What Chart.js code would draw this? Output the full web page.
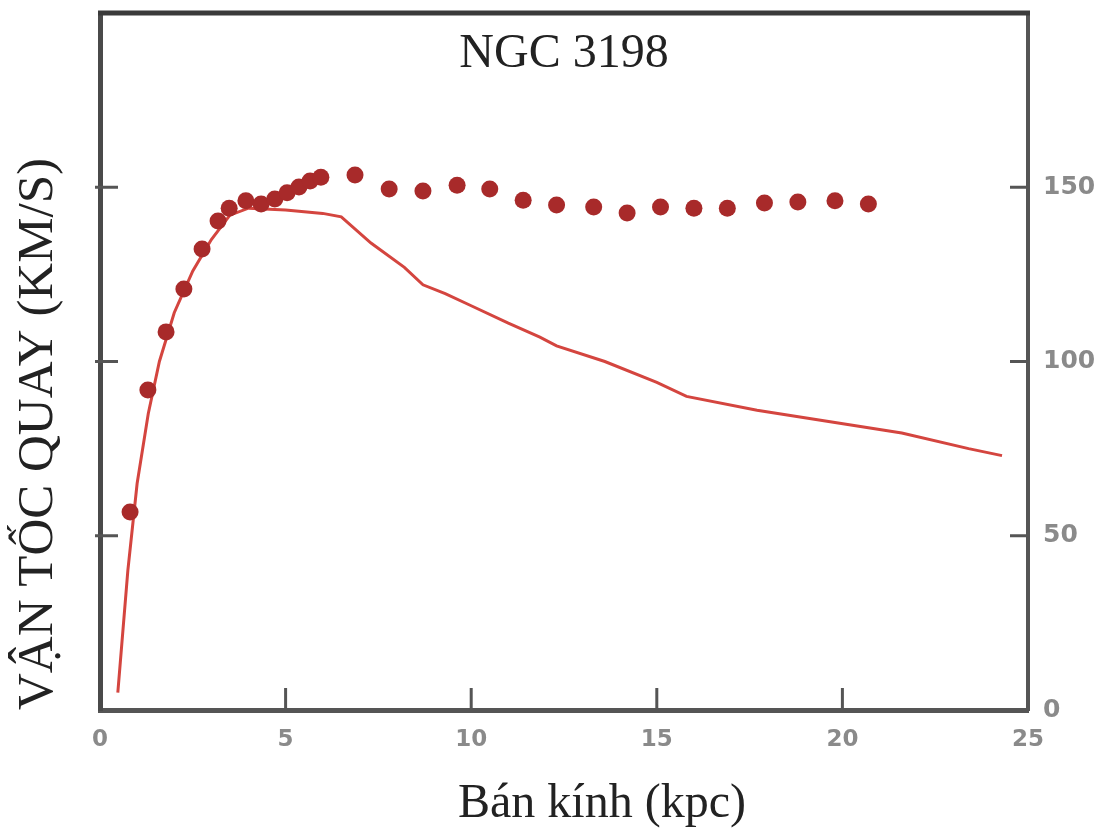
<!DOCTYPE html>
<html lang="vi">
<head>
<meta charset="UTF-8">
<title>NGC 3198</title>
<style>
  html, body { margin: 0; padding: 0; background: #fff; }
  #wrap { width: 1107px; height: 831px; }
</style>
</head>
<body>
<div id="wrap"><canvas id="chart"></canvas></div>
<script src="https://cdn.jsdelivr.net/npm/chart.js"></script>
<script>
// observed rotation speeds (dots)
const obsRadius = [0.81, 1.29, 1.78, 2.26, 2.75, 3.18, 3.48, 3.93, 4.34, 4.71, 5.04, 5.36, 5.66, 5.95,
  6.87, 7.79, 8.70, 9.62, 10.5, 11.4, 12.3, 13.3, 14.2, 15.1, 16.0, 16.9, 17.9, 18.8, 19.8, 20.7];
const obsSpeed = [56.8, 91.8, 108.5, 120.8, 132.3, 140.3, 144.0, 146.1, 145.2, 146.6, 148.4, 150.1, 151.8, 152.9,
  153.5, 149.5, 148.9, 150.6, 149.5, 146.3, 144.9, 144.3, 142.6, 144.3, 144.0, 144.0, 145.5, 145.8, 146.1, 145.2];

// expected curve (visible matter only)
const modelRadius = [0.48, 0.75, 1.0, 1.3, 1.6, 2.0, 2.5, 3.0, 3.5, 4.0, 5.0, 6.0, 6.5, 7.3, 8.2, 8.7, 9.3,
  10.0, 11.0, 11.85, 12.3, 13.6, 15.0, 15.8, 17.7, 20.1, 21.6, 23.4, 24.3];
const modelSpeed = [5, 40, 65, 85, 100, 114, 126, 135, 142, 144, 143.5, 142.5, 141.5, 134, 127, 122, 119.5,
  116, 111, 107, 104.5, 100, 94, 90, 86, 82, 79.5, 75, 73];

const plotTitle = 'NGC 3198';
const xTitle = 'Bán kính (kpc)';
const yTitle = 'VẬN TỐC QUAY (KM/S)';

const obsPoints = obsRadius.map((r, i) => ({x: r, y: obsSpeed[i]}));
const modelPoints = modelRadius.map((r, i) => ({x: r, y: modelSpeed[i]}));

// top frame line, inward tick marks, title inside the plot and x title
const frame = {
  id: 'frame',
  afterDraw(chart) {
    const {ctx, chartArea: a, scales} = chart;
    ctx.save();
    ctx.strokeStyle = '#3a3a3a';
    ctx.lineWidth = 5;
    ctx.beginPath();
    ctx.moveTo(a.left - 2, a.top);
    ctx.lineTo(a.right + 2, a.top);
    ctx.stroke();

    ctx.strokeStyle = '#555';
    ctx.lineWidth = 3;
    scales.x.ticks.forEach(t => {
      if (t.value <= 0 || t.value >= 25) return;
      const px = scales.x.getPixelForValue(t.value);
      ctx.beginPath();
      ctx.moveTo(px, a.bottom);
      ctx.lineTo(px, a.bottom - 22);
      ctx.stroke();
    });
    scales.y2.ticks.forEach(t => {
      if (t.value <= 0 || t.value >= 200) return;
      const py = scales.y2.getPixelForValue(t.value);
      ctx.beginPath();
      ctx.moveTo(a.left - 5, py);
      ctx.lineTo(a.left + 18, py);
      ctx.moveTo(a.right - 18, py);
      ctx.lineTo(a.right, py);
      ctx.stroke();
    });

    ctx.fillStyle = '#222';
    ctx.font = '48px "Liberation Serif", serif';
    ctx.textAlign = 'center';
    ctx.textBaseline = 'alphabetic';
    ctx.fillText(plotTitle, (a.left + a.right) / 2, a.top + 54);
    ctx.fillText(xTitle, (a.left + a.right) / 2 + 38, a.bottom + 107);
    ctx.restore();
  }
};

function noPad(s) {
  s.paddingTop = 0;
  s.paddingBottom = 0;
}

new Chart(document.getElementById('chart'), {
  type: 'scatter',
  data: {
    datasets: [
      {
        label: 'quan sát',
        data: obsPoints,
        pointRadius: 8.5,
        pointBackgroundColor: '#a82a2a',
        pointBorderWidth: 0,
        showLine: false
      },
      {
        label: 'dự đoán',
        data: modelPoints,
        showLine: true,
        borderColor: '#d4453f',
        borderWidth: 3,
        pointRadius: 0,
        tension: 0
      }
    ]
  },
  options: {
    responsive: true,
    maintainAspectRatio: false,
    animation: false,
    layout: { padding: { top: 13 } },
    plugins: { legend: { display: false }, tooltip: { enabled: false } },
    scales: {
      x: {
        type: 'linear',
        min: 0, max: 25,
        grid: { display: false, drawTicks: false },
        border: { display: true, color: '#555', width: 5 },
        ticks: { stepSize: 5, padding: 16, color: '#8a8a8a', font: { family: 'DejaVu Sans', weight: 'bold', size: 23 } },
        afterFit(s) { s.height = 121; s.paddingLeft = 0; s.paddingRight = 0; }
      },
      y: {
        position: 'left',
        min: 0, max: 200,
        grid: { display: false, drawTicks: false },
        border: { display: true, color: '#4a4a4a', width: 5 },
        ticks: { display: false, stepSize: 50 },
        title: {
          display: true, text: yTitle, align: 'start', color: '#222',
          padding: { top: 8, bottom: 0 },
          font: { family: 'Liberation Serif', size: 51 }
        },
        afterFit(s) { s.width = 100; noPad(s); }
      },
      y2: {
        position: 'right',
        min: 0, max: 200,
        grid: { display: false, drawTicks: false },
        border: { display: true, color: '#555', width: 4 },
        ticks: {
          stepSize: 50, padding: 15, color: '#8a8a8a',
          font: { family: 'DejaVu Sans', weight: 'bold', size: 25 },
          callback: v => (v === 200 ? '' : v)
        },
        afterFit(s) { s.width = 79; noPad(s); }
      }
    }
  },
  plugins: [frame]
});
</script>
</body>
</html>
